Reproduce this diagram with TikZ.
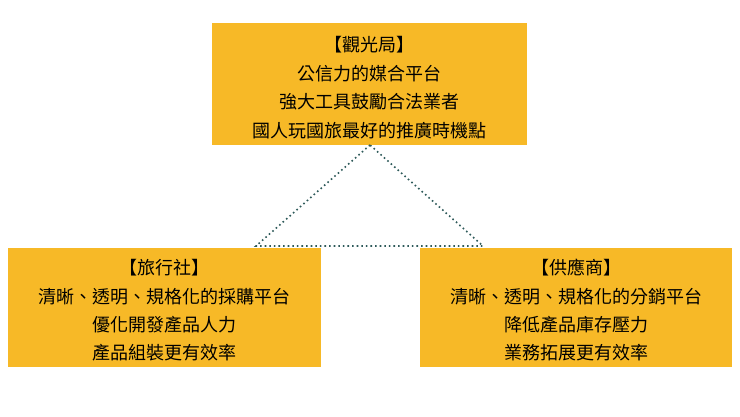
\documentclass[tikz,border=0pt]{standalone}
\usepackage{fontspec}
\setmainfont{Noto Sans CJK TC}
\begin{document}
\begin{tikzpicture}[x=1pt,y=-1pt,
  box/.style={fill=boxc,draw=none,inner sep=0pt},
  txt/.style={font=\fontsize{18}{20}\selectfont,text=black,anchor=center},
  tri/.style={draw=tric,line width=1.6pt,dash pattern=on 1.6pt off 3pt}]
\definecolor{boxc}{HTML}{F7B927}
\definecolor{tric}{HTML}{2E5A5A}
\useasboundingbox (0,0) rectangle (740,416);
\fill[boxc] (212,23) rectangle (527,145);
\fill[boxc] (8,248) rectangle (321,367);
\fill[boxc] (420,248) rectangle (732,367);
\node[txt] (t1) at (369.5,45) {【觀光局】};
\node[txt] (t2) at (369.5,74) {公信力的媒合平台};
\node[txt] (t3) at (369.5,102) {強大工具鼓勵合法業者};
\node[txt] (t4) at (369.5,131) {國人玩國旅最好的推廣時機點};
\node[txt] (l1) at (164.5,268) {【旅行社】};
\node[txt] (l2) at (164.5,297) {清晰、透明、規格化的採購平台};
\node[txt] (l3) at (164.5,325) {優化開發產品人力};
\node[txt] (l4) at (164.5,353) {產品組裝更有效率};
\node[txt] (r1) at (576,268) {【供應商】};
\node[txt] (r2) at (576,297) {清晰、透明、規格化的分銷平台};
\node[txt] (r3) at (576,325) {降低產品庫存壓力};
\node[txt] (r4) at (576,353) {業務拓展更有效率};
\coordinate (apex) at (370,145);
\coordinate (bl) at (256,246);
\coordinate (br) at (483,246);
\draw[tri] (apex) -- (bl) -- (br) -- cycle;
\end{tikzpicture}
\end{document}
